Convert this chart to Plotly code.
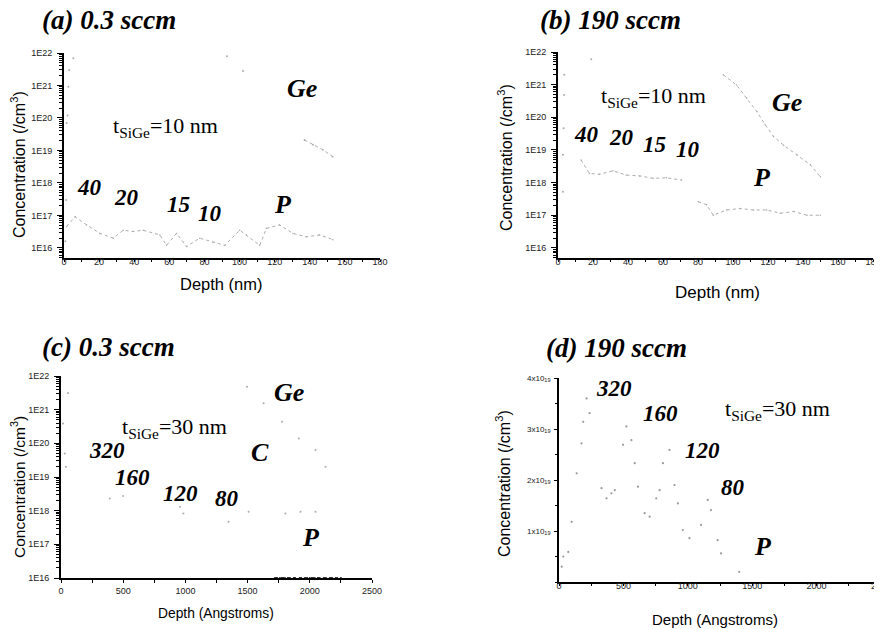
import plotly.graph_objects as go

W, H = 882, 629
OFF = 8  # the page body adds an 8 px margin; reference pixel positions are shifted by it

# ---------------- data ----------------
# (a) 0.3 sccm, t_SiGe = 10 nm  (depth nm, concentration /cm3)
a_surf_x = [0.8, 1.2, 1.5, 2.0, 2.5, 3.0, 5.3, 92.8, 102]
a_surf_y = [1.6e16, 3e17, 7e19, 1.2e20, 9.1e20, 3e21, 6.9e21, 7.9e21, 2.8e21]
a_ge_x = [137, 141.8, 147.5, 153]
a_ge_y = [2.1e19, 1.5e19, 1.05e19, 6.5e18]
a_p_x = [1.5, 6.3, 12.9, 20.5, 28.1, 33.7, 39.4, 45.1, 54.6, 58.4, 64.1, 69.8, 77.3,
         84.9, 91.6, 100.1, 103.9, 111.5, 115.3, 122.8, 130.4, 138.0, 145.6, 153.2]
a_p_y = [4.6e16, 9.1e16, 5.1e16, 2.8e16, 2.0e16, 3.5e16, 3.2e16, 3.5e16, 2.5e16, 1.2e16, 2.8e16,
         1.1e16, 2.0e16, 1.5e16, 1.2e16, 3.5e16, 2.5e16, 1.2e16, 4.0e16, 5.1e16, 2.8e16, 2.2e16,
         2.5e16, 1.8e16]

# (b) 190 sccm, t_SiGe = 10 nm
b_surf_x = [2.8, 2.8, 3.2, 3.5, 3.6, 19]
b_surf_y = [5.2e17, 7.1e18, 4.6e19, 4.8e20, 2.0e21, 6.0e21]
b_ge_x = [94.5, 102, 107.8, 113.6, 118.4, 123.1, 128.9, 136.5, 144.2, 149.9]
b_ge_y = [2.0e21, 9.8e20, 3.8e20, 1.5e20, 5.9e19, 2.6e19, 1.4e19, 7.1e18, 3.5e18, 1.5e18]
b_p_x = [13.2, 18, 23.7, 31.4, 39, 46.7, 54.3, 62, 70.6, None, 80.1, 84.9, 88.7, 96.4, 104,
         111.7, 119.3, 127, 134.6, 142.3, 149.9]
b_p_y = [4.9e18, 1.9e18, 1.8e18, 2.3e18, 1.7e18, 1.6e18, 1.35e18, 1.4e18, 1.2e18, None, 2.6e17,
         2.1e17, 1.0e17, 1.45e17, 1.6e17, 1.45e17, 1.45e17, 1.15e17, 1.3e17, 1.0e17, 1.0e17]

# (c) 0.3 sccm, t_SiGe = 30 nm  (depth Angstrom)
c_ge_x = [1495, 1629, 1777, 1911, 2046, 2126]
c_ge_y = [4.8e21, 1.55e21, 4.4e20, 1.4e20, 6.3e19, 2.0e19]
c_surf_x = [56, 16, 30, 40]
c_surf_y = [3.1e21, 3.9e20, 5.0e19, 2.0e19]
c_p_x = [392, 500, 957, 984, 1347, 1508, 1804, 1925, 2046]
c_p_y = [2.3e18, 2.75e18, 1.3e18, 8.3e17, 4.7e17, 9.3e17, 8.3e17, 9.3e17, 9.3e17]
c_c_x = [1720, 1760, 1800, 1840, 1880, 1920, 1960, 2000, 2040, 2080, 2130, 2180, 2250]
c_c_y = [1.0e16] * 13

# (d) 190 sccm, t_SiGe = 30 nm, linear scale
d_x = [21, 33, 72, 98, 137, 175, 188, 214, 237, 330, 369, 407, 433, 497, 523, 562, 588, 613,
       665, 704, 755, 781, 807, 858, 897, 923, 961, 1013, 1103, 1155, 1180, 1232, 1258, 1399]
d_y = [0.30e19, 0.50e19, 0.59e19, 1.18e19, 2.13e19, 2.72e19, 3.14e19, 3.60e19, 3.31e19,
       1.84e19, 1.64e19, 1.74e19, 1.80e19, 2.69e19, 3.05e19, 2.78e19, 2.33e19, 1.87e19,
       1.35e19, 1.28e19, 1.64e19, 1.80e19, 2.33e19, 2.59e19, 1.90e19, 1.54e19, 1.02e19,
       0.86e19, 1.12e19, 1.61e19, 1.41e19, 0.82e19, 0.56e19, 0.20e19]

log_ticks = [1e16, 1e17, 1e18, 1e19, 1e20, 1e21, 1e22]
log_labels = ["1E16", "1E17", "1E18", "1E19", "1E20", "1E21", "1E22"]
log_minor = [k * 10.0 ** n for n in range(15, 22) for k in range(2, 10)]
nm_ticks = [0, 20, 40, 60, 80, 100, 120, 140, 160, 180]
ang_ticks = [0, 500, 1000, 1500, 2000, 2500]
lin_ticks = [1e19, 2e19, 3e19, 4e19]
lin_labels = ["1x10<sub>19</sub>", "2x10<sub>19</sub>", "3x10<sub>19</sub>", "4x10<sub>19</sub>"]

# ---------------- figure ----------------
fig = go.Figure()
DOT = "#ababab"


def px(x):
    return (x - OFF) / W


def py(y):
    return 1 - (y - OFF) / H


def trace(x, y, xa, ya, color=DOT, mode="lines", size=1.6, width=1.0, dash="dot"):
    fig.add_trace(go.Scatter(x=x, y=y, xaxis=xa, yaxis=ya, mode=mode,
                             line=dict(color=color, width=width, dash=dash),
                             marker=dict(color=color, size=size),
                             connectgaps=False, showlegend=False, hoverinfo="skip"))


trace(a_surf_x, a_surf_y, "x", "y", mode="markers", size=2)
trace(a_ge_x, a_ge_y, "x", "y", mode="lines+markers", size=1.8)
trace(a_p_x, a_p_y, "x", "y", mode="lines+markers", size=1.5)
trace(b_surf_x, b_surf_y, "x2", "y2", mode="markers", size=2)
trace(b_ge_x, b_ge_y, "x2", "y2", mode="lines+markers", size=1.5)
trace(b_p_x, b_p_y, "x2", "y2", mode="lines+markers", size=1.5)
trace(c_ge_x, c_ge_y, "x3", "y3", mode="markers", size=2)
trace(c_surf_x, c_surf_y, "x3", "y3", mode="markers", size=2)
trace(c_p_x, c_p_y, "x3", "y3", mode="markers", size=2)
trace(c_c_x, c_c_y, "x3", "y3", color="#333", mode="lines+markers", size=2.2, width=2)
trace(d_x, d_y, "x4", "y4", mode="markers", size=2.2, color="#999")

tickfont = dict(family="Liberation Sans, Arial", size=9, color="#222")
axline = dict(showline=True, linecolor="black", linewidth=1.6, showgrid=False, zeroline=False,
              ticks="outside", tickcolor="black", automargin=False)
minor_log = dict(ticks="outside", tickmode="array", tickvals=log_minor, ticklen=3,
                 tickcolor="black", tickwidth=1)

fig.update_layout(
    width=W, height=H, margin=dict(l=0, r=0, t=0, b=0, autoexpand=False),
    paper_bgcolor="white", plot_bgcolor="white",
    xaxis=dict(domain=[px(64), px(380)], range=[0, 180], anchor="y", tickvals=nm_ticks,
               ticklen=2, ticklabelstandoff=-8, ticklabeloverflow="allow", tickfont=tickfont,
               minor=dict(ticks="outside", dtick=10, ticklen=2, tickcolor="black"), **axline),
    yaxis=dict(domain=[py(258), py(53)], type="log", range=[15.69, 22.0], anchor="x",
               tickvals=log_ticks, ticktext=log_labels, ticklen=5, ticklabelstandoff=3,
               tickfont=tickfont, minor=minor_log, **axline),
    xaxis2=dict(domain=[px(558), px(873)], range=[0, 180], anchor="y2", tickvals=nm_ticks,
                ticklen=2, ticklabelstandoff=-8, ticklabeloverflow="allow", tickfont=tickfont,
                minor=dict(ticks="outside", dtick=10, ticklen=2, tickcolor="black"), **axline),
    yaxis2=dict(domain=[py(258), py(52)], type="log", range=[15.69, 22.0], anchor="x2",
                tickvals=log_ticks, ticktext=log_labels, ticklen=5, ticklabelstandoff=3,
                tickfont=tickfont, minor=minor_log, **axline),
    xaxis3=dict(domain=[px(61), px(372)], range=[0, 2500], anchor="y3", tickvals=ang_ticks,
                ticklen=3, ticklabeloverflow="allow", tickfont=tickfont,
                minor=dict(ticks="outside", dtick=250, ticklen=3, tickcolor="black"), **axline),
    yaxis3=dict(domain=[py(578), py(376)], type="log", range=[16, 22.0], anchor="x3",
                tickvals=log_ticks, ticktext=log_labels, ticklen=5, ticklabelstandoff=3,
                tickfont=tickfont, minor=minor_log, **axline),
    xaxis4=dict(domain=[px(559), px(881)], range=[0, 2500], anchor="y4", tickvals=ang_ticks,
                ticklen=2, ticklabelstandoff=-8, ticklabeloverflow="allow", tickfont=tickfont,
                minor=dict(ticks="outside", dtick=250, ticklen=2, tickcolor="black"), **axline),
    yaxis4=dict(domain=[py(582), py(378)], range=[0, 4e19], anchor="x4",
                tickvals=lin_ticks, ticktext=lin_labels, ticklen=3, ticklabelstandoff=2,
                tickfont=dict(family="Liberation Sans, Arial", size=8, color="#222"),
                minor=dict(ticks="outside", dtick=0.5e19, ticklen=2, tickcolor="black"),
                **axline),
)

SERIF = "Liberation Serif, Times New Roman"
SANS = "Liberation Sans, Arial"


def ann(text, x, y, size, bold=True, italic=True, family=SERIF, angle=0, color="black"):
    fig.add_annotation(text=text, x=px(x), y=py(y), xref="paper", yref="paper",
                       xanchor="center", yanchor="middle", showarrow=False, textangle=angle,
                       font=dict(family=family, size=size, color=color,
                                 weight="bold" if bold else "normal",
                                 style="italic" if italic else "normal"))


# panel titles
ann("(a) 0.3 sccm", 109, 20, 27)
ann("(b) 190 sccm", 610, 20, 27)
ann("(c) 0.3 sccm", 108, 347, 27)
ann("(d) 190 sccm", 616, 348, 27)

# axis titles
for (x, y, s) in [(18, 165, 16), (505, 158, 16), (18, 487, 15.5), (503, 483, 16)]:
    ann("Concentration (/cm<sup>3</sup>)", x, y, s, bold=False, italic=False, family=SANS, angle=-90)
ann("Depth (nm)", 221, 284, 16.5, bold=False, italic=False, family=SANS)
ann("Depth (nm)", 717, 292, 17, bold=False, italic=False, family=SANS)
ann("Depth (Angstroms)", 216, 613, 13.8, bold=False, italic=False, family=SANS)
ann("Depth (Angstroms)", 715, 619, 15, bold=False, italic=False, family=SANS)

# in-plot labels
TS = 22
ann("t<sub>SiGe</sub>=10 nm", 165, 127, TS, bold=False, italic=False)
ann("t<sub>SiGe</sub>=10 nm", 653, 97, TS, bold=False, italic=False)
ann("t<sub>SiGe</sub>=30 nm", 174, 428, TS, bold=False, italic=False)
ann("t<sub>SiGe</sub>=30 nm", 777, 410, TS, bold=False, italic=False)

NS, LS = 23, 26
for (t, x, y, s) in [("Ge", 302, 89, LS), ("40", 89, 187, NS), ("20", 126, 198, NS),
                     ("15", 178, 204, NS), ("10", 210, 213, NS), ("P", 283, 204, LS),
                     ("Ge", 787, 103, LS), ("40", 586, 135, NS), ("20", 621, 137, NS),
                     ("15", 654, 144, NS), ("10", 688, 149, NS), ("P", 762, 177, LS),
                     ("Ge", 289, 392, LS), ("320", 107, 450, NS), ("C", 260, 452, LS),
                     ("160", 132, 477, NS), ("120", 180, 493, NS), ("80", 227, 498, NS),
                     ("P", 311, 537, LS),
                     ("320", 614, 388, NS), ("160", 660, 413, NS), ("120", 702, 450, NS),
                     ("80", 733, 487, NS), ("P", 763, 546, LS)]:
    ann(t, x, y, s)

fig.write_html("out.html")
